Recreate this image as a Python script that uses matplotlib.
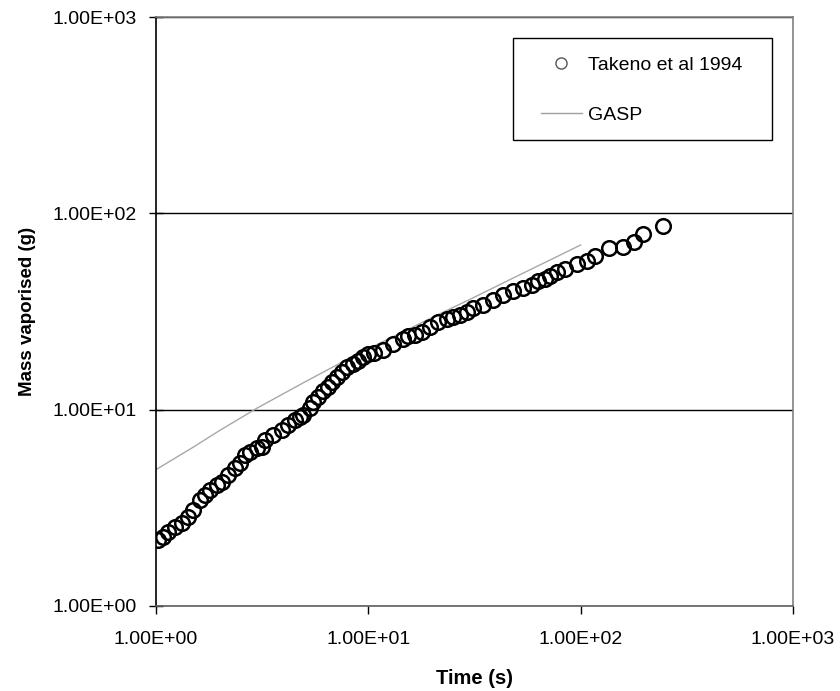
import matplotlib.pyplot as plt
from matplotlib.lines import Line2D
from matplotlib.patches import Rectangle
from matplotlib.ticker import FixedLocator, FuncFormatter, NullLocator

plt.rcParams['font.family'] = ['Liberation Sans', 'DejaVu Sans']

# ===== data =====
takeno_time = [1.02, 1.08, 1.14, 1.23, 1.33, 1.41, 1.49, 1.61, 1.70, 1.80,
               1.94, 2.05, 2.18, 2.36, 2.49, 2.63, 2.77, 2.99, 3.16, 3.26,
               3.56, 3.92, 4.19, 4.52, 4.77, 4.93, 5.31, 5.49, 5.80, 6.12,
               6.46, 6.75, 7.12, 7.52, 7.94, 8.47, 8.94, 9.44, 9.97, 10.6,
               11.7, 13.1, 14.6, 15.4, 16.6, 17.9, 19.5, 21.3, 23.5, 25.1,
               27.0, 29.2, 31.1, 34.7, 38.7, 43.1, 48.0, 53.5, 59.0, 63.0,
               68.0, 71.7, 77.4, 84.5, 96.3, 107, 117, 136, 158, 179,
               197, 245]
takeno_mass = [2.17, 2.25, 2.39, 2.53, 2.65, 2.85, 3.09, 3.47, 3.69, 3.91,
               4.14, 4.29, 4.66, 5.06, 5.37, 5.89, 6.10, 6.40, 6.48, 7.03,
               7.45, 7.91, 8.38, 8.89, 9.21, 9.43, 10.2, 11.0, 11.6, 12.4,
               13.1, 13.9, 14.7, 15.6, 16.4, 17.0, 17.6, 18.6, 19.1, 19.5,
               20.2, 21.5, 22.8, 23.6, 24.1, 25.0, 26.5, 27.8, 28.8, 29.5,
               30.5, 31.6, 33.1, 34.3, 36.4, 38.6, 40.0, 41.9, 43.4, 45.0,
               46.1, 47.7, 50.0, 51.8, 54.9, 56.9, 60.3, 66.3, 67.1, 71.1,
               78.1, 85.9]

gasp_time = [1.0, 1.5, 2.0, 3.0, 5.0, 8.0, 10, 15, 20, 30, 50, 70, 100]
gasp_mass = [4.95, 6.45, 7.85, 10.2, 13.8, 18.1, 20.4, 25.3, 29.5, 36.4, 47.8, 57.1, 69.0]

decades = [1, 10, 100, 1000]

# ===== figure =====
fig = plt.figure(figsize=(8.4, 6.91), dpi=100)
ax = fig.add_axes([156 / 840, 1 - 606 / 691, (793 - 156) / 840, (606 - 17) / 691])

ax.plot(gasp_time, gasp_mass, color='#a8a8a8', lw=1.0, zorder=2)
ax.plot(takeno_time, takeno_mass, ls='none', marker='o', ms=10.5,
        mfc='none', mec='black', mew=1.8, zorder=3)

ax.set_xscale('log')
ax.set_yscale('log')
ax.set_xlim(1, 1000)
ax.set_ylim(1, 1000)

fmt = FuncFormatter(lambda v, p: '%.2E' % v)
for axis in (ax.xaxis, ax.yaxis):
    axis.set_major_locator(FixedLocator(decades))
    axis.set_minor_locator(NullLocator())
    axis.set_major_formatter(fmt)

ax.yaxis.grid(True, color='black', lw=1.0)
ax.set_axisbelow(True)

ax.spines['left'].set_color('black')
ax.spines['bottom'].set_color('#606060')
ax.spines['top'].set_color('#808080')
ax.spines['right'].set_color('#808080')
for s in ax.spines.values():
    s.set_linewidth(1.2)

ax.tick_params(axis='both', direction='out', length=6, width=1.0,
               labelsize=14, color='black', pad=12)
ax.tick_params(axis='y', direction='inout', length=10, pad=9)

ax.set_xlabel('Time (s)', fontsize=14.5, fontweight='bold', labelpad=15)
ax.set_ylabel('Mass vaporised (g)', fontsize=13.5, fontweight='bold', labelpad=12)

# legend
handles = [
    Line2D([], [], ls='none', marker='o', ms=8, mfc='none', mec='#555555', mew=1.0),
    Line2D([], [], color='#a0a0a0', lw=1.0),
]
fig.legend(handles, ['Takeno et al 1994', 'GASP'], loc='upper left',
           bbox_to_anchor=(541 / 840, 1 - 56 / 691), frameon=False,
           fontsize=14, handlelength=2.1, handletextpad=0.3,
           labelspacing=1.68, borderpad=0, borderaxespad=0)
fig.patches.append(Rectangle((513 / 840, 1 - 140 / 691), 259 / 840, 102 / 691,
                             transform=fig.transFigure, fill=False,
                             edgecolor='black', lw=1.0))

fig.savefig('out.png', dpi=100)
